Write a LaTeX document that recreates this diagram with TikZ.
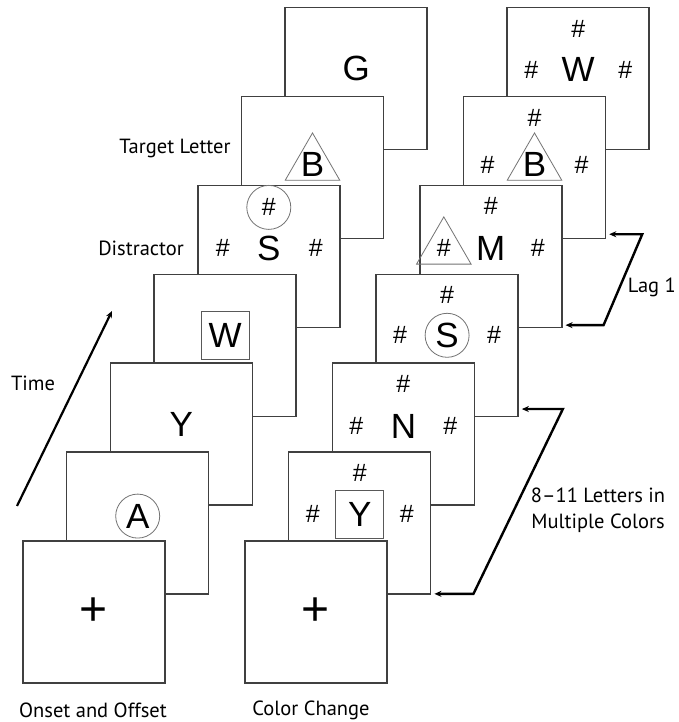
\documentclass[tikz,border=0pt]{standalone}
\usepackage{fontspec}
\setmainfont{PT Sans}
\newfontfamily\letterfont{Liberation Sans}
\usetikzlibrary{arrows.meta,positioning,shapes.geometric}
\def\stepx{43.7}
\def\stepy{88.9}

\begin{document}
\begin{tikzpicture}[x=1pt,y=1pt]
    \tikzstyle{frame}=[rectangle,draw=black!75,fill=white,line width=1.5pt,minimum size=142pt,inner sep=0pt]
    \tikzstyle{letter}=[font=\letterfont\fontsize{35}{35}\selectfont,inner sep=0pt]
    \tikzstyle{hash}=[font=\letterfont\fontsize{25}{25}\selectfont,inner sep=0pt]
    \tikzstyle{cross}=[font=\letterfont\fontsize{48}{48}\selectfont,inner sep=0pt]
    \tikzstyle{ring}=[circle,draw=black!55,line width=0.8pt,minimum size=44pt]
    \tikzstyle{boxed}=[rectangle,draw=black!65,line width=1pt,minimum size=48pt]
    \tikzstyle{tri}=[regular polygon,regular polygon sides=3,draw=black!55,line width=0.8pt,minimum size=63pt,inner sep=0pt]
    \tikzstyle{annot}=[font=\fontsize{20.5}{26}\selectfont,inner sep=0pt]
    \tikzstyle{lag}=[{Stealth[length=7pt,width=6pt]}-{Stealth[length=7pt,width=6pt]},line width=2.4pt,shorten <=3pt,shorten >=3pt]

    \useasboundingbox (0,0) rectangle (679,722);

    % Draw the frames, back to front
    \foreach \i in {7,...,1} {
        \node[frame] (L-\i) at ({94+(\i-1)*\stepx},{110+(\i-1)*\stepy}) {};
        \node[frame] (R-\i) at ({316+(\i-1)*\stepx},{110+(\i-1)*\stepy}) {};
    }

    % Onset and offset stream
    \node[cross] (L-1-c) at (L-1) {+};
    \node[letter,ring] (L-2-c) at ([yshift=7pt]L-2.center) {A};
    \node[letter] (L-3-c) at ([yshift=10pt]L-3.center) {Y};
    \node[letter,boxed] (L-4-c) at ([yshift=10pt]L-4.center) {W};
    \node[letter] (L-5-c) at ([yshift=8pt]L-5.center) {S};
    \node[hash] (L-5-l) at ([xshift=-46pt]L-5-c) {\#};
    \node[hash] (L-5-r) at ([xshift=47pt]L-5-c) {\#};
    \node[hash,ring] (L-5-t) at ([yshift=49pt]L-5.center) {\#};
    \node[letter] (L-6-c) at ([yshift=3pt]L-6.center) {B};
    \node[tri] (L-6-m) at (L-6-c) {};
    \node[letter] (L-7-c) at ([yshift=10pt]L-7.center) {G};

    % Color change stream
    \node[cross] (R-1-c) at (R-1) {+};
    \foreach \i/\c/\dy in {2/Y/9,3/N/8,4/S/10,5/M/8,6/B/3,7/W/9} {
        \node[letter] (R-\i-c) at ([yshift=\dy pt]R-\i.center) {\c};
        \node[hash] (R-\i-t) at ([yshift=50pt]R-\i.center) {\#};
        \node[hash] (R-\i-l) at ([xshift=-47pt]R-\i-c) {\#};
        \node[hash] (R-\i-r) at ([xshift=47pt]R-\i-c) {\#};
    }
    \node[boxed] (R-2-m) at (R-2-c) {};
    \node[ring] (R-4-m) at (R-4-c) {};
    \node[tri] (R-5-m) at (R-5-l) {};
    \node[tri] (R-6-m) at (R-6-c) {};

    % Lag arrows
    \draw[lag] ([yshift=5pt]R-6.south east) -- ++(36,0)
        -- ([xshift=41pt,yshift=3pt]R-5.south east) -- ([yshift=3pt]R-5.south east);
    \draw[lag] ([yshift=8pt]R-4.south east) -- ++(44,0)
        -- ([xshift=42pt,yshift=1pt]R-2.south east) -- ([yshift=1pt]R-2.south east);

    % Time arrow
    \coordinate (t0) at (17,216);
    \coordinate (t1) at (112,411);
    \draw[-{Stealth[length=7pt,width=6pt]},line width=2.2pt] (t0) -- (t1);

    % Annotate
    \node[annot,anchor=east] (target) at ([xshift=-10pt,yshift=19pt]L-6.west) {Target Letter};
    \node[annot,anchor=east] (distr) at ([xshift=-13pt,yshift=8pt]L-5.west) {Distractor};
    \node[annot] (time) at (33,339) {Time};
    \node[annot,anchor=east] (lagl) at (676,435) {Lag 1};
    \node[annot,align=center] (many) at (598,212) {8–11 Letters in\\Multiple Colors};
    \node[annot] (onset) at (93,12) {Onset and Offset};
    \node[annot] (color) at (311,12) {Color Change};
\end{tikzpicture}
\end{document}
